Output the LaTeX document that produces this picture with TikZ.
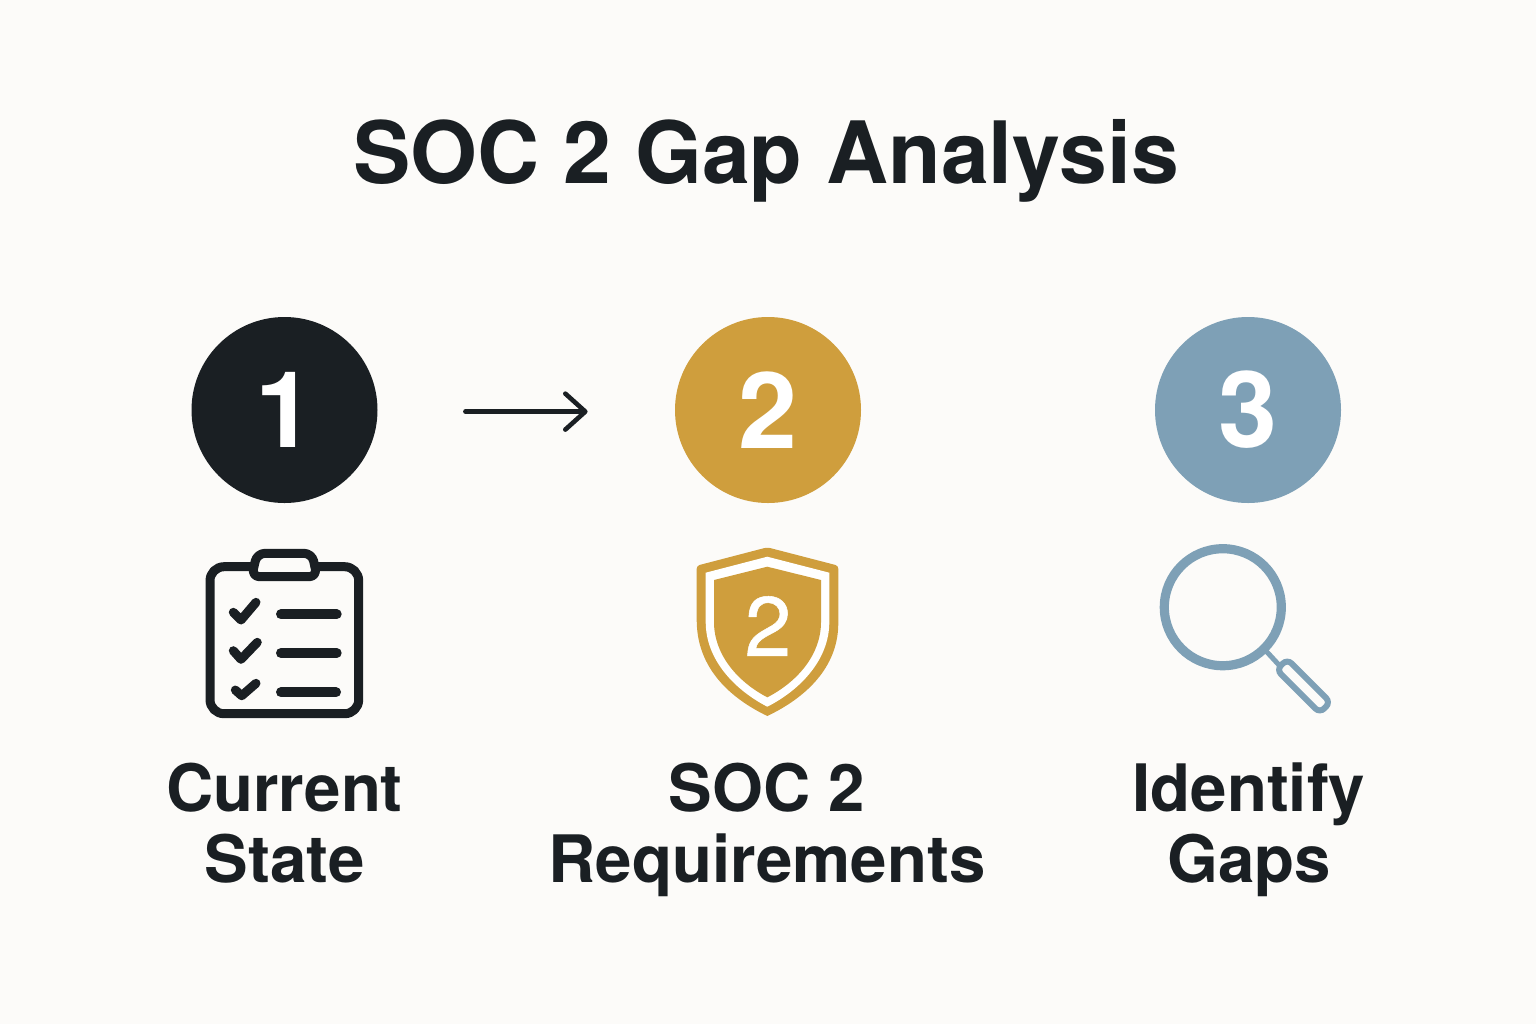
\documentclass[tikz,border=0pt]{standalone}
\usepackage{fontspec}
\setmainfont{TeX Gyre Heros}
\newfontfamily\shieldfont[FakeBold=0.6]{TeX Gyre Heros}
\usetikzlibrary{arrows.meta}
\definecolor{paper}{HTML}{FCFBF9}
\definecolor{ink}{HTML}{1A1F23}
\definecolor{gold}{HTML}{CF9E3D}
\definecolor{steel}{HTML}{7EA0B6}

\begin{document}
\begin{tikzpicture}[x=0.5pt,y=-0.5pt]
            \tikzstyle{m}=[circle,minimum size=93pt,inner sep=0pt,text=white,font=\fontsize{53}{60}\selectfont\bfseries]
            \tikzstyle{lab}=[align=center,text=ink,font=\fontsize{32.7}{35.5}\selectfont\bfseries]
            \tikzstyle{ic}=[ink,line width=4.5pt,line cap=round,line join=round]
            \tikzstyle{bar}=[ink,line width=5pt,line cap=round]

            \fill[paper] (0,0) rectangle (1536,1024);
            \node [text=ink,font=\fontsize{43}{50}\selectfont\bfseries] (title) at (766,161) {SOC 2 Gap Analysis};

            \node [m,fill=ink] (one) at (284.5,410) {1};
            \node [m,fill=gold] (two) at (768,410) {2};
            \node [m,fill=steel] (three) at (1248,410) {3};
            \draw [ink,line width=2.3pt,line cap=round,shorten <=43.75pt,shorten >=43.5pt,-{Straight Barb[length=10pt,width=18pt,round]}]
              ([yshift=-0.8pt]one.east) -- ([yshift=-0.8pt]two.west);

            \draw [ic,rounded corners=7pt] (210,566.7) rectangle (358.7,713.7);
            \draw [ic,fill=paper,rounded corners=4pt] (257,553.3) -- (312,553.3) -- (317,576.7) -- (251.7,576.7) -- cycle;
            \draw [ic] (233.3,612.3) -- (241,620) -- (256,602.3);
            \draw [ic] (233.3,650.7) -- (241,659.3) -- (257.3,642.3);
            \draw [ic] (235.3,690) -- (241.7,695.7) -- (256,683.3);
            \draw [bar] (281,614.3) -- (336.7,614.3);
            \draw [bar] (281,653) -- (336.7,653);
            \draw [bar] (281,692.3) -- (336,692.3);

            \fill [gold,rounded corners=1.5pt] (767.3,547.3) -- (838.3,565.7) -- (838.3,620) [sharp corners] .. controls (838.3,668) and (805,698) .. (767.3,716) .. controls (730,698) and (696.7,668) .. (696.7,620) [rounded corners=1.5pt] -- (696.7,565.7) -- cycle;
            \fill [white] (767.3,556.7) -- (829.3,572.7) -- (829.3,622) .. controls (829.3,660) and (800,690) .. (767.3,706.7) .. controls (735,690) and (705.7,660) .. (705.7,622) -- (705.7,572.7) -- cycle;
            \fill [gold] (767.3,566.7) -- (821,580) -- (821,622) .. controls (821,655) and (797,682) .. (767.3,697.3) .. controls (738,682) and (714,655) .. (714,622) -- (714,580) -- cycle;
            \node [text=white,font=\fontsize{42}{48}\selectfont\shieldfont] (shieldnum) at (768,626) {2};

            \draw [steel,line width=4.6pt] (1222.8,607.2) circle (29.25pt);
            \draw [steel,line width=2.5pt] (1266.7,651.7) -- (1279,665);
            \node [draw=steel,line width=3pt,rectangle,rounded corners=3pt,rotate=-45,minimum width=30.5pt,minimum height=7.5pt,inner sep=0pt] (handle) at (1303.5,686) {};

            \node [lab] (state) at (284.5,823) {Current\\State};
            \node [lab] (req) at (767,829.5) {SOC 2\\Requirements};
            \node [lab] (gaps) at (1249,829.5) {Identify\\Gaps};
        \end{tikzpicture}
\end{document}
